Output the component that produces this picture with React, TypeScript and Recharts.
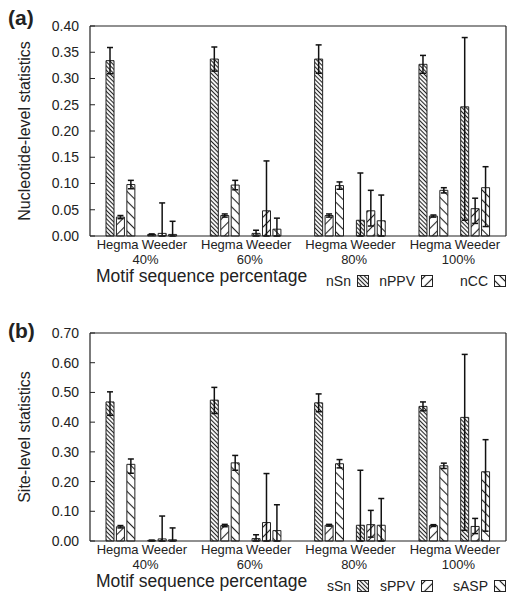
import React from "react";
import { BarChart, Bar, Cell, XAxis, YAxis, ErrorBar, ReferenceLine, Legend } from "recharts";

// group order in every series: Hegma 40%, Weeder 40%, Hegma 60%, Weeder 60%, ... 100%
const percentages = ["40%", "60%", "80%", "100%"];
const methods = ["Hegma", "Weeder"];

// (a) nucleotide level
const nSn = [0.334, 0.003, 0.337, 0.005, 0.337, 0.030, 0.327, 0.246];
const nSnHi = [0.025, 0.001, 0.023, 0.006, 0.027, 0.090, 0.017, 0.132];
const nSnLo = [0.025, 0.001, 0.023, 0.005, 0.027, 0.030, 0.017, 0.216];
const nPPV = [0.036, 0.005, 0.039, 0.048, 0.039, 0.048, 0.038, 0.052];
const nPPVHi = [0.003, 0.058, 0.003, 0.095, 0.003, 0.039, 0.002, 0.020];
const nPPVLo = [0.003, 0.005, 0.003, 0.048, 0.003, 0.029, 0.002, 0.028];
const nCC = [0.098, 0.003, 0.097, 0.013, 0.096, 0.029, 0.087, 0.092];
const nCCHi = [0.008, 0.025, 0.009, 0.021, 0.007, 0.049, 0.005, 0.040];
const nCCLo = [0.008, 0.003, 0.009, 0.013, 0.007, 0.029, 0.005, 0.074];

// (b) site level
const sSn = [0.468, 0.002, 0.474, 0.008, 0.465, 0.053, 0.453, 0.416];
const sSnHi = [0.034, 0.001, 0.043, 0.013, 0.030, 0.185, 0.015, 0.212];
const sSnLo = [0.045, 0.002, 0.045, 0.008, 0.030, 0.053, 0.015, 0.380];
const sPPV = [0.048, 0.007, 0.052, 0.062, 0.053, 0.055, 0.052, 0.049];
const sPPVHi = [0.004, 0.077, 0.004, 0.165, 0.003, 0.048, 0.003, 0.027];
const sPPVLo = [0.004, 0.007, 0.004, 0.062, 0.003, 0.042, 0.003, 0.024];
const sASP = [0.258, 0.004, 0.263, 0.035, 0.260, 0.053, 0.253, 0.233];
const sASPHi = [0.018, 0.040, 0.025, 0.087, 0.014, 0.090, 0.009, 0.108];
const sASPLo = [0.030, 0.004, 0.025, 0.035, 0.014, 0.053, 0.009, 0.200];

const ticksA = [0, 0.05, 0.1, 0.15, 0.2, 0.25, 0.3, 0.35, 0.4];
const ticksB = [0, 0.1, 0.2, 0.3, 0.4, 0.5, 0.6, 0.7];

const FONT = "'Liberation Sans', Arial, sans-serif";
const INK = "#222";

type Series = { name: string; values: number[]; hi: number[]; lo: number[] };
type Slot = {
  key: string;
  value: number | null;
  err?: [number, number];
  measure: number;
  methodLabel?: string;
  methodIdx?: number;
  pctLabel?: string;
};

function buildSlots(series: Series[]): Slot[] {
  const slots: Slot[] = [];
  percentages.forEach((pct, p) => {
    methods.forEach((m, mi) => {
      const k = p * 2 + mi;
      series.forEach((s, si) => {
        slots.push({
          key: `${pct}-${m}-${s.name}`,
          value: s.values[k],
          err: [s.lo[k], s.hi[k]],
          measure: si,
          methodLabel: si === 1 ? m : undefined,
          methodIdx: mi,
        });
      });
      if (mi === 0) slots.push({ key: `${pct}-mid`, value: null, measure: -1, pctLabel: pct });
    });
    if (p < percentages.length - 1) {
      for (let g = 0; g < 3; g++) slots.push({ key: `${pct}-gap${g}`, value: null, measure: -1 });
    }
  });
  return slots;
}

// stripe spacing and direction for the three measures
const patternSpecs = [
  { w: 3, rot: -45 },
  { w: 7, rot: 45 },
  { w: 7, rot: -45 },
];

function Patterns({ prefix }: { prefix: string }) {
  return (
    <defs>
      {patternSpecs.map((p, i) => (
        <pattern
          key={i}
          id={`${prefix}${i}`}
          width={p.w}
          height={p.w}
          patternUnits="userSpaceOnUse"
          patternTransform={`rotate(${p.rot})`}
        >
          <rect width={p.w} height={p.w} fill="#fff" />
          <line x1={p.w / 2} y1={0} x2={p.w / 2} y2={p.w} stroke={INK} strokeWidth={1.1} />
        </pattern>
      ))}
    </defs>
  );
}

function Swatch({ idx, id }: { idx: number; id: string }) {
  const p = patternSpecs[idx];
  return (
    <svg width={12} height={12} style={{ display: "block" }}>
      <defs>
        <pattern id={id} width={p.w} height={p.w} patternUnits="userSpaceOnUse" patternTransform={`rotate(${p.rot})`}>
          <rect width={p.w} height={p.w} fill="#fff" />
          <line x1={p.w / 2} y1={0} x2={p.w / 2} y2={p.w} stroke={INK} strokeWidth={1.1} />
        </pattern>
      </defs>
      <rect x={0.5} y={0.5} width={11} height={11} fill={`url(#${id})`} stroke={INK} strokeWidth={1} />
    </svg>
  );
}

function SlotTick(props: any) {
  const { x, y, payload, slots } = props;
  const s: Slot = slots[payload.index];
  if (!s) return null;
  return (
    <g>
      {s.methodLabel && (
        <text
          x={x + (s.methodIdx === 0 ? -3 : 2)}
          y={y + 5}
          textAnchor="middle"
          fontSize={13}
          fill={INK}
          fontFamily={FONT}
        >
          {s.methodLabel}
        </text>
      )}
      {s.pctLabel && (
        <text x={x + 4} y={y + 20} textAnchor="middle" fontSize={13} fill={INK} fontFamily={FONT}>
          {s.pctLabel}
        </text>
      )}
    </g>
  );
}

const boxX = [357, 421, 494];

function Panel({
  prefix,
  series,
  ticks,
  yLabel,
  height,
  top,
}: {
  prefix: string;
  series: Series[];
  ticks: number[];
  yLabel: string;
  height: number;
  top: number;
}) {
  const slots = buildSlots(series);
  const max = ticks[ticks.length - 1];
  return (
    <BarChart
      width={508}
      height={height}
      data={slots}
      margin={{ top, right: 0, left: 0, bottom: 0 }}
      barSize={8}
    >
      <Patterns prefix={prefix} />
      <XAxis
        dataKey="key"
        xAxisId="x"
        interval={0}
        height={30}
        padding={{ left: 15, right: 15 }}
        tickLine={false}
        axisLine={{ stroke: INK, strokeWidth: 1.2 }}
        tick={(p: any) => <SlotTick {...p} slots={slots} />}
      />
      <YAxis
        yAxisId="l"
        width={90}
        domain={[0, max]}
        ticks={ticks}
        interval={0}
        tickSize={-5}
        tickMargin={16}
        tickFormatter={(v: number) => v.toFixed(2)}
        tick={{ fontSize: 14, fill: INK, fontFamily: FONT }}
        tickLine={{ stroke: INK }}
        axisLine={{ stroke: INK, strokeWidth: 1.2 }}
        label={{ value: yLabel, angle: -90, position: "center", dx: -21, fontSize: 16, fill: INK, fontFamily: FONT }}
      />
      <YAxis
        yAxisId="r"
        orientation="right"
        width={2}
        domain={[0, max]}
        ticks={ticks}
        interval={0}
        tickSize={-5}
        tick={false}
        tickLine={{ stroke: INK }}
        axisLine={{ stroke: INK, strokeWidth: 1.2 }}
      />
      <ReferenceLine y={max} yAxisId="l" xAxisId="x" stroke={INK} strokeWidth={1.2} />
      <Legend
        verticalAlign="bottom"
        wrapperStyle={{ left: 0, width: 508 }}
        content={() => (
          <div style={{ position: "relative", height: 24, fontFamily: FONT, color: INK }}>
            <div style={{ position: "absolute", left: 96, top: 2, fontSize: 17.5, lineHeight: "17px", whiteSpace: "nowrap" }}>
              Motif sequence percentage
            </div>
            {series.map((s, i) => (
              <React.Fragment key={s.name}>
                <div
                  style={{
                    position: "absolute",
                    right: 508 - boxX[i] + 6,
                    top: 7,
                    fontSize: 14,
                    lineHeight: "16px",
                    whiteSpace: "nowrap",
                  }}
                >
                  {s.name}
                </div>
                <div style={{ position: "absolute", left: boxX[i], top: 9 }}>
                  <Swatch idx={i} id={`${prefix}lg${i}`} />
                </div>
              </React.Fragment>
            ))}
          </div>
        )}
      />
      <Bar dataKey="value" xAxisId="x" yAxisId="l" isAnimationActive={false} stroke={INK} strokeWidth={1}>
        {slots.map((s) => (
          <Cell key={s.key} fill={s.measure >= 0 ? `url(#${prefix}${s.measure})` : "none"} />
        ))}
        <ErrorBar dataKey="err" width={3} stroke="#111" strokeWidth={1.5} isAnimationActive={false} />
      </Bar>
    </BarChart>
  );
}

const seriesA: Series[] = [
  { name: "nSn", values: nSn, hi: nSnHi, lo: nSnLo },
  { name: "nPPV", values: nPPV, hi: nPPVHi, lo: nPPVLo },
  { name: "nCC", values: nCC, hi: nCCHi, lo: nCCLo },
];
const seriesB: Series[] = [
  { name: "sSn", values: sSn, hi: sSnHi, lo: sSnLo },
  { name: "sPPV", values: sPPV, hi: sPPVHi, lo: sPPVLo },
  { name: "sASP", values: sASP, hi: sASPHi, lo: sASPLo },
];

export default function App() {
  return (
    <div
      style={{
        position: "absolute",
        left: 0,
        top: 0,
        width: 508,
        height: 594,
        background: "#fff",
        overflow: "hidden",
        fontFamily: FONT,
      }}
    >
      <div style={{ position: "absolute", left: 0, top: 0 }}>
        <Panel prefix="pa" series={seriesA} ticks={ticksA} yLabel="Nucleotide-level statistics" height={290} top={26} />
      </div>
      <div style={{ position: "absolute", left: 0, top: 300 }}>
        <Panel prefix="pb" series={seriesB} ticks={ticksB} yLabel="Site-level statistics" height={295} top={33} />
      </div>
      <div style={{ position: "absolute", left: 8, top: 6, fontSize: 21, fontWeight: "bold", color: INK }}>(a)</div>
      <div style={{ position: "absolute", left: 8, top: 319, fontSize: 21, fontWeight: "bold", color: INK }}>(b)</div>
    </div>
  );
}
